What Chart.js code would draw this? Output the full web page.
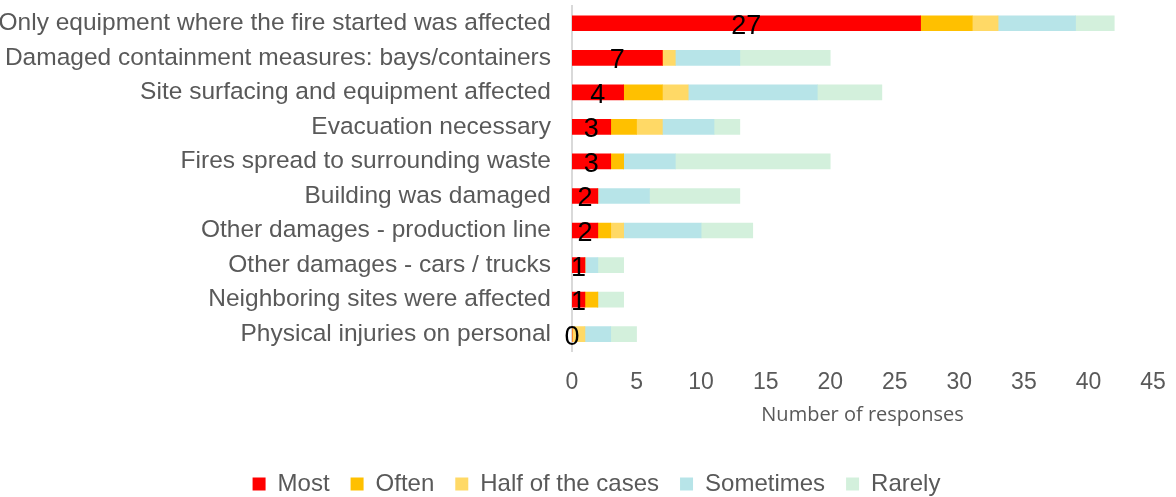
<!DOCTYPE html>
<html>
<head>
<meta charset="utf-8">
<script src="https://cdn.jsdelivr.net/npm/chart.js@4.4.0/dist/chart.umd.min.js"></script>
<style>
    html, body { margin: 0; padding: 0; background: #fff; }
    #wrap { width: 1176px; height: 497px; position: relative; }
</style>
</head>
<body>
<div id="wrap"><canvas id="chart"></canvas></div>
<script>
// ===== DATA =====
const categories = [
    'Only equipment where the fire started was affected',
    'Damaged containment measures: bays/containers',
    'Site surfacing and equipment affected',
    'Evacuation necessary',
    'Fires spread to surrounding waste',
    'Building was damaged',
    'Other damages - production line',
    'Other damages - cars / trucks',
    'Neighboring sites were affected',
    'Physical injuries on personal'
];
const most      = [27, 7, 4, 3, 3, 2, 2, 1, 1, 0];
const often     = [4, 0, 3, 2, 1, 0, 1, 0, 1, 0];
const half      = [2, 1, 2, 2, 0, 0, 1, 0, 0, 1];
const sometimes = [6, 5, 10, 4, 4, 4, 6, 1, 0, 2];
const rarely    = [3, 7, 5, 2, 12, 7, 4, 2, 2, 2];
const xTicks    = [0, 5, 10, 15, 20, 25, 30, 35, 40, 45];

const FONT = 'Arial, "Liberation Sans", sans-serif';

// Labels on the "Most" segments
const mostLabels = {
    id: 'mostLabels',
    afterDatasetsDraw(chart) {
        const ctx = chart.ctx;
        const meta = chart.getDatasetMeta(0);
        ctx.save();
        ctx.fillStyle = '#000';
        ctx.font = '27px ' + FONT;
        ctx.textAlign = 'center';
        ctx.textBaseline = 'middle';
        meta.data.forEach((bar, i) => {
            const x = (bar.x + bar.base) / 2;
            ctx.fillText(String(most[i]), x, bar.y + 3);
        });
        ctx.restore();
    }
};

// Nudge the legend a little lower and to the right, like the original
const legendShift = {
    id: 'legendShift',
    afterLayout(chart) {
        const lg = chart.legend;
        if (!lg) return;
        lg.top += 9;
        lg.bottom += 9;
        lg.left += 20;
        lg.right += 20;
    }
};

const barOpts = { barThickness: 15, borderWidth: 0 };

new Chart(document.getElementById('chart'), {
    type: 'bar',
    data: {
        labels: categories,
        datasets: [
            { label: 'Most', data: most, backgroundColor: '#FF0000', ...barOpts },
            { label: 'Often', data: often, backgroundColor: '#FFC000', ...barOpts },
            { label: 'Half of the cases', data: half, backgroundColor: '#FFD966', ...barOpts },
            { label: 'Sometimes', data: sometimes, backgroundColor: '#B7E4E8', ...barOpts },
            { label: 'Rarely', data: rarely, backgroundColor: '#D3F0DC', ...barOpts }
        ]
    },
    options: {
        indexAxis: 'y',
        responsive: true,
        maintainAspectRatio: false,
        animation: false,
        layout: { padding: { top: 6, right: 23, bottom: 0, left: 0 } },
        plugins: {
            legend: {
                position: 'bottom',
                labels: {
                    boxWidth: 13,
                    boxHeight: 13,
                    padding: 21,
                    color: '#595959',
                    font: { size: 24, family: FONT }
                }
            },
            tooltip: { enabled: false }
        },
        scales: {
            x: {
                stacked: true,
                min: 0,
                max: 45,
                afterBuildTicks: (axis) => { axis.ticks = xTicks.map(v => ({ value: v })); },
                afterFit: (axis) => { axis.paddingLeft = 0; axis.paddingRight = 0; },
                grid: { display: false, drawTicks: false },
                border: { display: false },
                ticks: {
                    color: '#595959',
                    padding: 17,
                    font: { size: 23, family: FONT }
                },
                title: {
                    display: true,
                    text: 'Number of responses',
                    color: '#595959',
                    padding: { top: -10, bottom: 15 },
                    font: { size: 20, family: '"Open Sans", sans-serif' }
                }
            },
            y: {
                stacked: true,
                afterFit: (axis) => { axis.paddingTop = 0; axis.paddingBottom = 0; axis.width = 572; },
                grid: { display: false, drawTicks: false },
                border: { display: true, color: '#D9D9D9', width: 2 },
                ticks: {
                    autoSkip: false,
                    color: '#595959',
                    padding: 21,
                    font: { size: 24.5, family: FONT }
                }
            }
        }
    },
    plugins: [mostLabels, legendShift]
});
</script>
</body>
</html>
